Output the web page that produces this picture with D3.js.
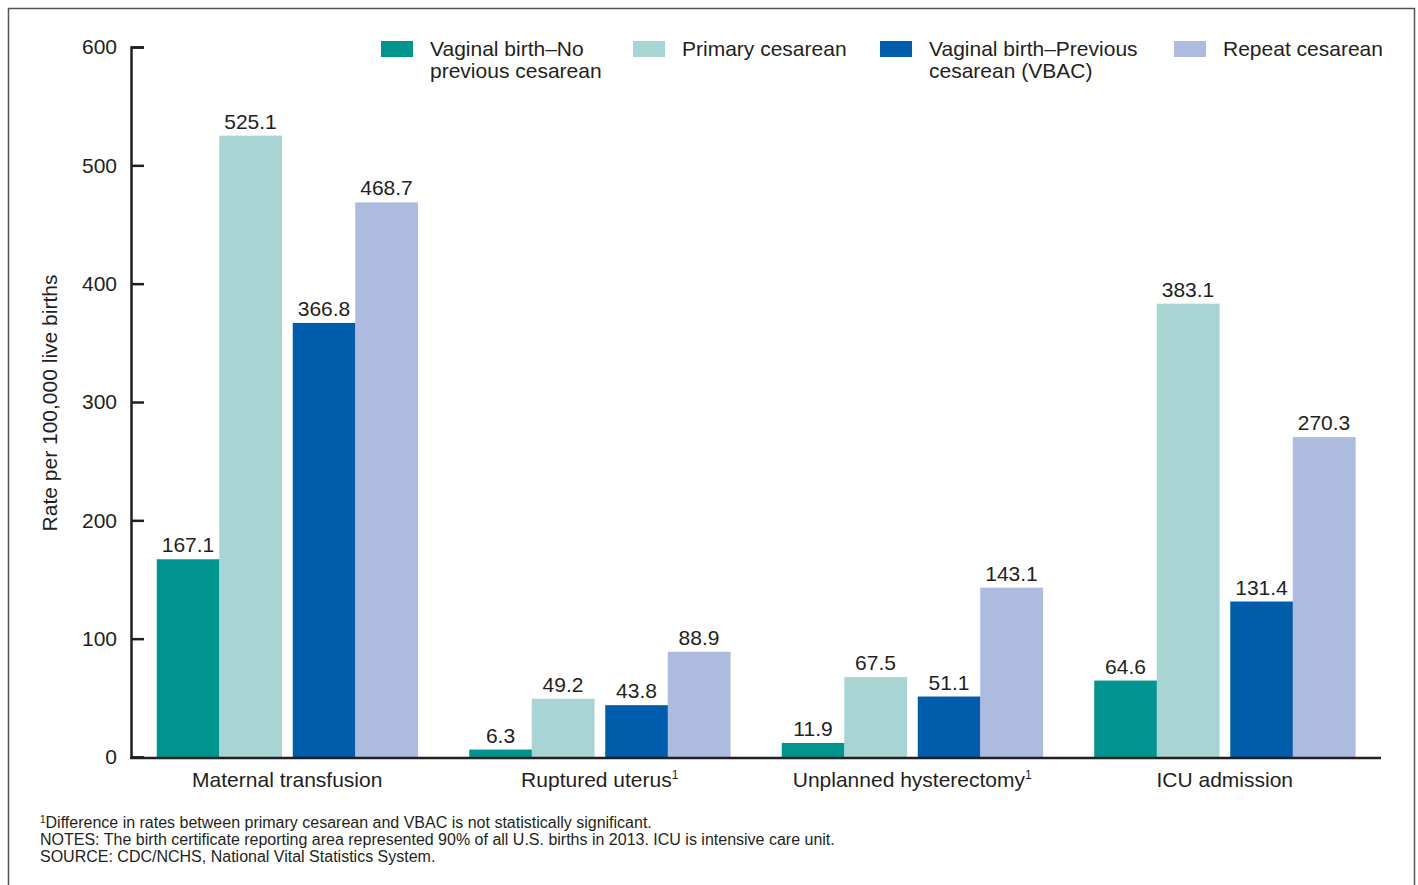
<!DOCTYPE html>
<html>
<head>
<meta charset="utf-8">
<script src="https://cdn.jsdelivr.net/npm/d3@7"></script>
<style>
  body { margin: 0; background: #fff; }
  svg text { font-family: "Liberation Sans", Arial, sans-serif; fill: #231f20; }
</style>
</head>
<body>
<div id="chart"></div>
<script>
// chart data
const categories = ["Maternal transfusion", "Ruptured uterus", "Unplanned hysterectomy", "ICU admission"];
const footnoted = [false, true, true, false];
const seriesNames = [
  ["Vaginal birth\u2013No", "previous cesarean"],
  ["Primary cesarean"],
  ["Vaginal birth\u2013Previous", "cesarean (VBAC)"],
  ["Repeat cesarean"]
];
const vaginalNoPrev = [167.1, 6.3, 11.9, 64.6];
const primaryCes = [525.1, 49.2, 67.5, 383.1];
const vbac = [366.8, 43.8, 51.1, 131.4];
const repeatCes = [468.7, 88.9, 143.1, 270.3];
const yTicks = [0, 100, 200, 300, 400, 500, 600];
const colors = ["#00948f", "#a8d4d4", "#005dab", "#adbbde"];

const allSeries = [vaginalNoPrev, primaryCes, vbac, repeatCes];

const width = 1418;
const height = 885;
const margin = {left: 131, right: 37, top: 47, bottom: 127};

const svg = d3.select("#chart")
  .append("svg")
  .attr("width", width)
  .attr("height", height);

// outer frame
svg.append("rect")
  .attr("x", 8.5).attr("y", 8.5)
  .attr("width", 1406).attr("height", 900)
  .attr("fill", "none")
  .attr("stroke", "#555")
  .attr("stroke-width", 1.5);

const yScale = d3.scaleLinear()
  .domain([0, 600])
  .range([height - margin.bottom - 1, margin.top]);

const x0 = d3.scaleBand()
  .domain(d3.range(categories.length))
  .range([margin.left, width - margin.right])
  .paddingInner(0.1648)
  .paddingOuter(0.0824);

// two pairs of bars inside each group
const xPair = d3.scaleBand()
  .domain([0, 1])
  .range([0, x0.bandwidth()])
  .paddingInner(0.0809);

const xBar = d3.scaleBand()
  .domain([0, 1])
  .range([0, xPair.bandwidth()]);

const barX = (g, s) => x0(g) + xPair(Math.floor(s / 2)) + xBar(s % 2);

// bars
allSeries.forEach(function(vals, s) {
  const grp = svg.append("g");
  grp.selectAll("rect")
    .data(vals)
    .enter()
    .append("rect")
      .attr("x", (d, i) => barX(i, s))
      .attr("y", d => yScale(d))
      .attr("width", xBar.bandwidth() + 0.3)
      .attr("height", d => yScale(0) - yScale(d))
      .attr("fill", colors[s]);

  grp.selectAll("text")
    .data(vals)
    .enter()
    .append("text")
      .attr("x", (d, i) => barX(i, s) + xBar.bandwidth() / 2)
      .attr("y", d => yScale(d) - 7)
      .attr("text-anchor", "middle")
      .attr("font-size", "21px")
      .text(d => d.toFixed(1));
});

// y axis, ticks pointing inward
const yAxis = svg.append("g")
  .attr("transform", `translate(${margin.left}, 0)`)
  .call(d3.axisLeft(yScale)
    .tickValues(yTicks)
    .tickSizeInner(-13)
    .tickSizeOuter(-13)
    .tickPadding(14));
yAxis.selectAll("text").attr("font-size", "21px").style("fill", "#231f20");
yAxis.selectAll("line, path").attr("stroke", "#231f20").attr("stroke-width", 2.5);

// x axis line
svg.append("line")
  .attr("x1", margin.left - 1)
  .attr("x2", width - margin.right)
  .attr("y1", yScale(0) + 1)
  .attr("y2", yScale(0) + 1)
  .attr("stroke", "#231f20")
  .attr("stroke-width", 2.5);

// category labels
const catLabels = svg.selectAll(".cat")
  .data(categories)
  .enter()
  .append("text")
    .attr("class", "cat")
    .attr("x", (d, i) => x0(i) + x0.bandwidth() / 2)
    .attr("y", 787)
    .attr("text-anchor", "middle")
    .attr("font-size", "21px");
catLabels.append("tspan").text(d => d);
catLabels.filter((d, i) => footnoted[i])
  .append("tspan")
    .attr("font-size", "12px")
    .attr("dy", "-8")
    .text("1");

// y axis title
svg.append("text")
  .attr("transform", "translate(57, 403) rotate(-90)")
  .attr("text-anchor", "middle")
  .attr("font-size", "21px")
  .text("Rate per 100,000 live births");

// legend
const legendX = [381, 633, 880, 1174];
const legend = svg.selectAll(".legend")
  .data(seriesNames)
  .enter()
  .append("g")
    .attr("class", "legend")
    .attr("transform", (d, i) => `translate(${legendX[i]}, 41)`);
legend.append("rect")
  .attr("width", 32)
  .attr("height", 16)
  .attr("fill", (d, i) => colors[i]);
legend.each(function(lines) {
  const t = d3.select(this).append("text")
    .attr("x", 49)
    .attr("y", 15)
    .attr("font-size", "21px");
  lines.forEach(function(line, j) {
    t.append("tspan")
      .attr("x", 49)
      .attr("dy", j === 0 ? 0 : 22)
      .text(line);
  });
});

// footnotes
const notes = svg.append("text")
  .attr("x", 40)
  .attr("y", 828)
  .attr("font-size", "16px");
notes.append("tspan").attr("font-size", "10px").attr("dy", "-5").text("1");
notes.append("tspan").attr("dy", "5").text("Difference in rates between primary cesarean and VBAC is not statistically significant.");
svg.append("text")
  .attr("x", 40).attr("y", 845).attr("font-size", "16px")
  .text("NOTES: The birth certificate reporting area represented 90% of all U.S. births in 2013. ICU is intensive care unit.");
svg.append("text")
  .attr("x", 40).attr("y", 862).attr("font-size", "16px")
  .text("SOURCE: CDC/NCHS, National Vital Statistics System.");
</script>
</body>
</html>
